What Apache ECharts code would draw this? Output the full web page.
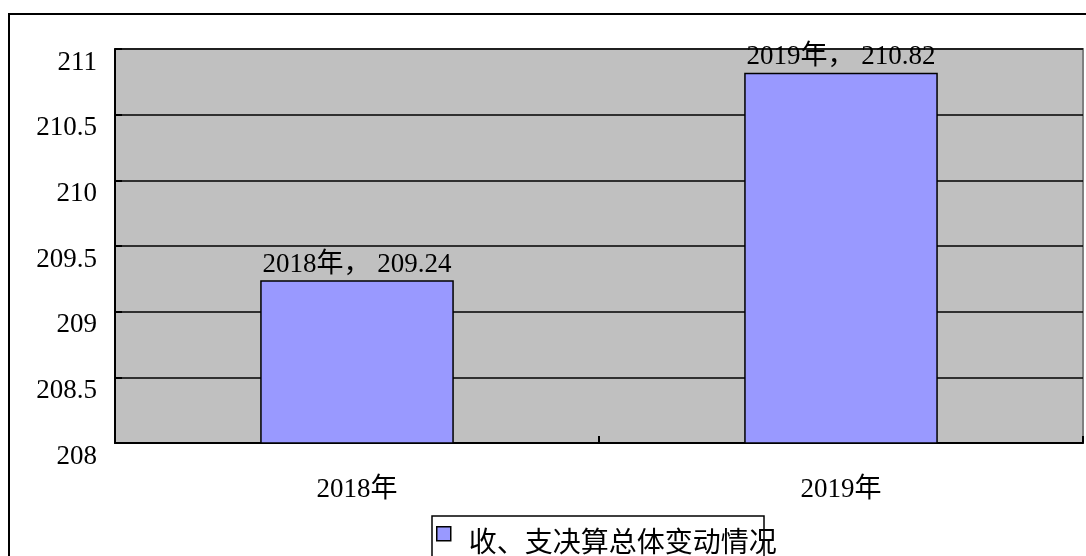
<!DOCTYPE html>
<html><head><meta charset="utf-8">
<script src="https://cdn.jsdelivr.net/npm/echarts@6/dist/echarts.min.js"></script>
<style>html,body{margin:0;padding:0;background:#fff}#c{width:1086px;height:556px}</style>
</head><body><div id="c"></div>
<script>
const categories = ['2018年', '2019年'];
const values = [209.24, 210.82];
const seriesName = '收、支决算总体变动情况';
const yTicks = { min: 208, max: 211, interval: 0.5 };

const FONT = '"Liberation Serif", "Noto Sans CJK SC", serif';
const chart = echarts.init(document.getElementById('c'));
chart.setOption({
  animation: false,
  backgroundColor: '#fff',
  graphic: [{
    type: 'rect', shape: { x: 9, y: 14, width: 1100, height: 600 },
    style: { fill: 'none', stroke: '#000', lineWidth: 2 }, z: -1
  }, {
    type: 'rect', shape: { x: 432, y: 516, width: 332, height: 60 },
    style: { fill: 'none', stroke: '#000', lineWidth: 1.5 }, z: 10
  }],
  grid: {
    left: 115, top: 49, right: 3, bottom: 113,
    show: true, backgroundColor: '#C0C0C0', borderColor: '#808080', borderWidth: 2
  },
  legend: {
    top: 526, left: 436,
    data: [seriesName],
    icon: 'rect', itemWidth: 14, itemHeight: 14,
    padding: 0,
    itemStyle: { borderColor: '#000', borderWidth: 1.5 },
    formatter: '{t|{name}}',
    textStyle: {
      fontFamily: FONT, fontSize: 28, color: '#000',
      rich: { t: { fontFamily: FONT, fontSize: 28, color: '#000', padding: [22, 0, 0, 13] } }
    }
  },
  xAxis: {
    type: 'category', data: categories,
    axisLine: { lineStyle: { color: '#000', width: 2 } },
    axisTick: { show: true, inside: true, length: 7, lineStyle: { color: '#000', width: 2 } },
    axisLabel: { fontFamily: FONT, fontSize: 27, color: '#000', margin: 33 },
    splitLine: { show: false }
  },
  yAxis: {
    type: 'value', min: yTicks.min, max: yTicks.max, interval: yTicks.interval,
    axisLine: { show: true, lineStyle: { color: '#000', width: 2 } },
    axisTick: { show: true, inside: true, length: 7, lineStyle: { color: '#000', width: 2 } },
    axisLabel: { fontFamily: FONT, fontSize: 27, color: '#000', margin: 18, verticalAlign: 'top' },
    splitLine: { show: true, lineStyle: { color: '#000', width: 1.5 } }
  },
  series: [{
    name: seriesName, type: 'bar', data: values, barWidth: '40%',
    itemStyle: { color: '#9999FF', borderColor: '#000', borderWidth: 1.5 },
    label: {
      show: true, position: 'top', distance: 2,
      fontFamily: FONT, fontSize: 27, color: '#000',
      formatter: p => p.name + '， ' + p.value
    }
  }]
});
</script></body></html>
